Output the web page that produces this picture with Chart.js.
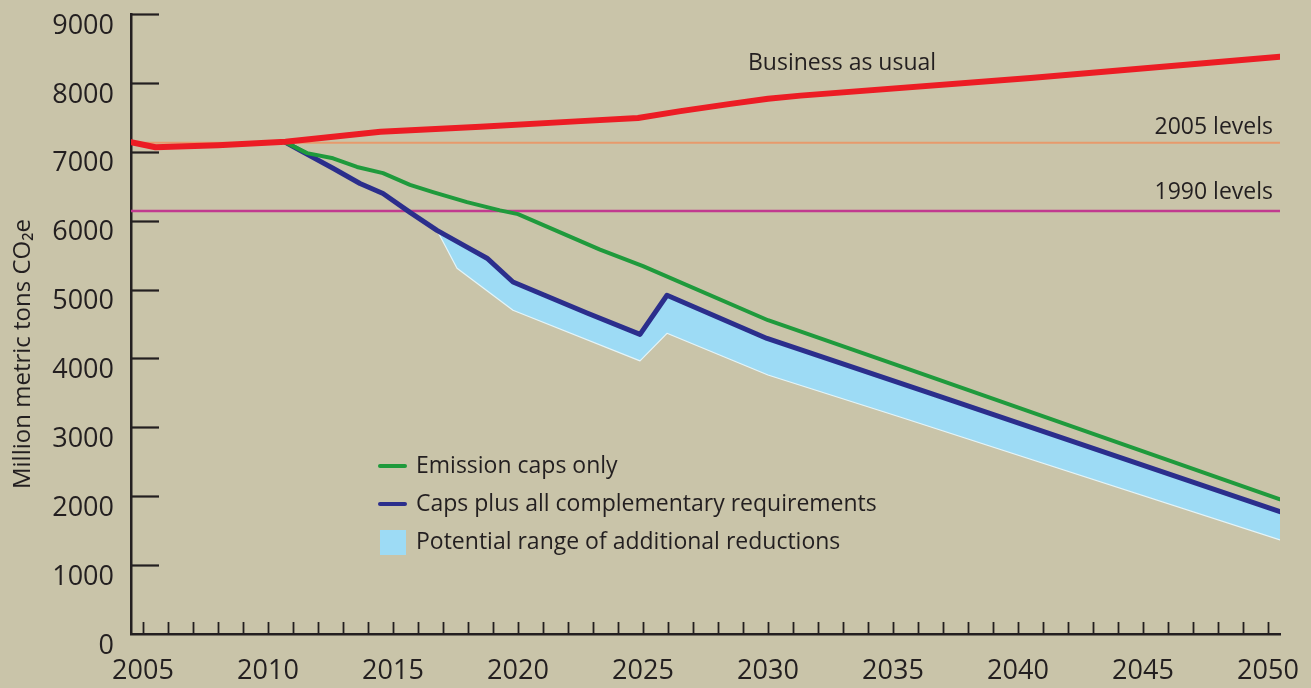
<!DOCTYPE html>
<html>
<head>
<meta charset="utf-8">
<script src="https://cdn.jsdelivr.net/npm/chart.js@4.4.1/dist/chart.umd.min.js"></script>
<style>
  html, body { margin: 0; padding: 0; background: #c9c4a9; }
  #wrap { width: 1311px; height: 688px; }
</style>
</head>
<body>
<div id="wrap"><canvas id="chart" width="1311" height="688"></canvas></div>
<script>
// --- dados (anos fracionários onde o traço começa/termina fora dos ticks) ---
const bauYears   = [2004.52, 2005.5, 2008, 2010.7, 2014.5, 2018.5, 2022.5, 2024.8, 2026.5, 2028.5, 2030, 2031.3, 2040.5, 2050.48];
const bauValues  = [7140, 7065, 7095, 7145, 7290, 7365, 7445, 7490, 7590, 7695, 7770, 7815, 8070, 8380];

const capsYears  = [2010.68, 2011.56, 2012.6, 2013.56, 2014.6, 2015.68, 2016.6, 2017.96, 2019.28, 2020, 2023.28, 2025, 2030, 2035.28, 2050.48];
const capsValues = [7140, 6980, 6905, 6780, 6690, 6520, 6415, 6270, 6150, 6095, 5580, 5340, 4555, 3890, 1955];

const compYears  = [2010.68, 2011.28, 2012.6, 2013.68, 2014.6, 2015.68, 2016.76, 2017.96, 2018.76, 2019.8, 2022.76, 2024.88, 2025.96, 2029.96, 2037.28, 2050.48];
const compValues = [7140, 7020, 6760, 6540, 6395, 6120, 5860, 5615, 5455, 5110, 4660, 4350, 4917, 4290, 3400, 1777];

const rangeYears = [2016.76, 2017.56, 2019.8, 2024.88, 2025.96, 2030, 2035.28, 2050.48];
const rangeLow   = [5860, 5310, 4700, 3965, 4365, 3760, 3150, 1367];

const levelYears = [2004.52, 2050.48];
const level2005  = 7130;
const level1990  = 6140;

const yTickValues  = [0, 1000, 2000, 3000, 4000, 5000, 6000, 7000, 8000, 9000];
const xLabelYears  = [2005, 2010, 2015, 2020, 2025, 2030, 2035, 2040, 2045, 2050];
const firstYear = 2005, lastYear = 2050;

const C = {
  bg:     '#c9c4a9',
  ink:    '#231f20',
  red:    '#ec1c24',
  green:  '#1f9a3c',
  blue:   '#2b2e8c',
  range:  '#9ddbf5',
  rangeEdge: '#e4f5fa',
  l2005:  '#e79a6c',
  l1990:  '#c13a8f',
};
const FONT = "'Open Sans', sans-serif";

const pts = (xs, ys) => xs.map((x, i) => ({ x, y: ys[i] }));

// Ticks curtos para dentro + legenda, título do eixo e rótulos de texto
const overlayPlugin = {
  id: 'overlay',
  afterDraw(chart) {
    const { ctx, chartArea: a, scales: { x, y } } = chart;
    ctx.save();
    ctx.strokeStyle = C.ink;
    ctx.lineWidth = 2.2;
    // ticks do eixo y (para a direita)
    yTickValues.forEach(v => {
      if (v === 0) return;
      const py = Math.round(y.getPixelForValue(v)) + 0.5;
      ctx.beginPath(); ctx.moveTo(a.left, py); ctx.lineTo(a.left + 28, py); ctx.stroke();
    });
    // ticks anuais do eixo x (para cima)
    ctx.lineWidth = 1.8;
    for (let yr = firstYear; yr <= lastYear; yr++) {
      const px = Math.round(x.getPixelForValue(yr)) + 0.5;
      ctx.beginPath(); ctx.moveTo(px, a.bottom); ctx.lineTo(px, a.bottom - 12); ctx.stroke();
    }

    // título do eixo y
    ctx.fillStyle = C.ink;
    ctx.font = `24px ${FONT}`;
    ctx.textAlign = 'center';
    ctx.textBaseline = 'middle';
    ctx.save();
    ctx.translate(23, 354);
    ctx.rotate(-Math.PI / 2);
    ctx.fillText('Million metric tons CO₂e', 0, 0);
    ctx.restore();

    // rótulos
    ctx.font = `23px ${FONT}`;
    ctx.textAlign = 'left';
    ctx.fillText('Business as usual', x.getPixelForValue(2029.2), y.getPixelForValue(8280));
    ctx.textAlign = 'right';
    ctx.fillText('2005 levels', x.getPixelForValue(2050.2), y.getPixelForValue(7350));
    ctx.fillText('1990 levels', x.getPixelForValue(2050.2), y.getPixelForValue(6410));

    // legenda
    const lx = 378, items = [
      { label: 'Emission caps only', color: C.green, type: 'line', y: 466 },
      { label: 'Caps plus all complementary requirements', color: C.blue, type: 'line', y: 504 },
      { label: 'Potential range of additional reductions', color: C.range, type: 'box', y: 542 },
    ];
    ctx.textAlign = 'left';
    items.forEach(it => {
      if (it.type === 'line') {
        ctx.strokeStyle = it.color; ctx.lineWidth = 4; ctx.lineCap = 'round';
        ctx.beginPath(); ctx.moveTo(lx + 2, it.y); ctx.lineTo(lx + 27, it.y); ctx.stroke();
      } else {
        ctx.fillStyle = it.color;
        ctx.fillRect(lx + 2, it.y - 12, 26, 25);
      }
      ctx.fillStyle = C.ink;
      ctx.fillText(it.label, lx + 38, it.y);
    });
    ctx.restore();
  }
};

new Chart(document.getElementById('chart'), {
  type: 'line',
  data: {
    datasets: [
      { label: 'Business as usual', data: pts(bauYears, bauValues),
        borderColor: C.red, borderWidth: 6 },
      { label: 'Emission caps only', data: pts(capsYears, capsValues),
        borderColor: C.green, borderWidth: 4 },
      { label: 'Caps plus all complementary requirements', data: pts(compYears, compValues),
        borderColor: C.blue, borderWidth: 5 },
      { label: 'Potential range of additional reductions', data: pts(rangeYears, rangeLow),
        borderColor: C.rangeEdge, borderWidth: 1.2, backgroundColor: C.range, fill: 2 },
      { label: '2005 levels', data: pts(levelYears, levelYears.map(() => level2005)),
        borderColor: C.l2005, borderWidth: 2 },
      { label: '1990 levels', data: pts(levelYears, levelYears.map(() => level1990)),
        borderColor: C.l1990, borderWidth: 2.5 },
    ]
  },
  options: {
    responsive: false,
    animation: false,
    events: [],
    layout: { padding: { top: 14, right: 31, bottom: 0, left: 0 } },
    elements: {
      point: { radius: 0 },
      line: { tension: 0, borderCapStyle: 'round', borderJoinStyle: 'round', fill: false },
    },
    plugins: { legend: { display: false }, tooltip: { enabled: false } },
    scales: {
      x: {
        type: 'linear',
        min: 2004.52, max: 2050.48,
        afterBuildTicks: s => { s.ticks = xLabelYears.map(v => ({ value: v })); },
        afterFit: s => { s.height = 54; s.paddingLeft = 0; s.paddingRight = 0; },
        grid: { display: false, drawTicks: false },
        border: { display: true, color: C.ink, width: 2.5 },
        ticks: { color: C.ink, font: { family: FONT, size: 27 }, padding: 21, maxRotation: 0,
                 autoSkip: false, callback: v => String(v) },
      },
      y: {
        min: 0, max: 9000,
        afterBuildTicks: s => { s.ticks = yTickValues.map(v => ({ value: v })); },
        afterFit: s => { s.width = 131; s.paddingTop = 0; s.paddingBottom = 0; },
        grid: { display: false, drawTicks: false },
        border: { display: true, color: C.ink, width: 2.5 },
        ticks: { color: C.ink, font: { family: FONT, size: 27 }, padding: 17, labelOffset: 12,
                 autoSkip: false, callback: v => String(v) },
      }
    }
  },
  plugins: [overlayPlugin]
});
</script>
</body>
</html>
